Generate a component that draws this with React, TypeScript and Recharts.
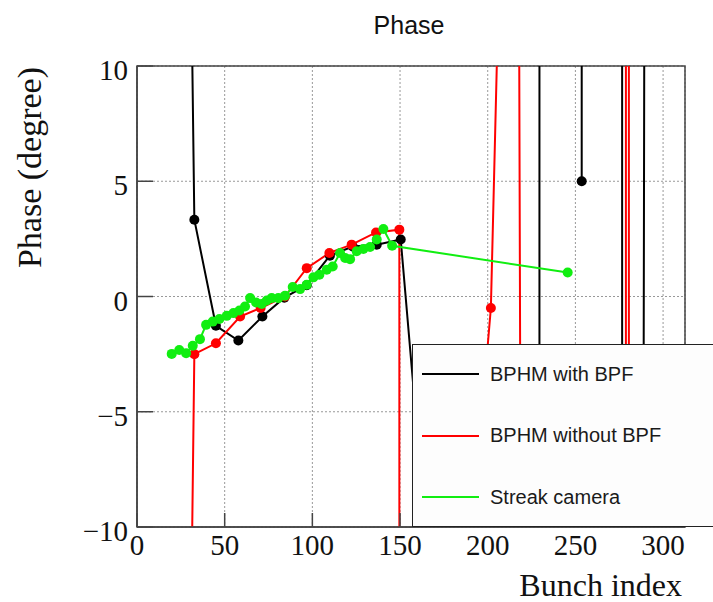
import React from 'react';
import {
  LineChart,
  Line,
  XAxis,
  YAxis,
  CartesianGrid,
  Legend,
  ReferenceArea,
} from 'recharts';

const xTicks = [0, 50, 100, 150, 200, 250, 300];
const yTicks = [-10, -5, 0, 5, 10];

// BPHM with BPF. Off-scale values only fix where the phase-wrap lines cross the frame.
const bunchWithBpf = [20, 32.7, 45, 57.8, 71.5, 84, 96.8, 110, 123, 136.7, 150.4, 163, 176, 189, 202, 215, 229.3, 229.7, 253.4, 253.6, 253.8, 276.6, 276.7, 287.5, 291, 300];
const phaseWithBpf = [78, 3.33, -1.27, -1.91, -0.87, -0.05, 0.49, 1.77, 2.17, 2.25, 2.47, -8.7, -30, -60, -100, -150, -400, 400, 400, 5, 400, 400, -400, -60, 80, 300];

// BPHM without BPF
const bunchNoBpf = [20, 32.7, 45, 58.8, 70.5, 84.4, 96.8, 109.7, 122.4, 136.3, 149.6, 150, 189, 201.8, 214, 215.5, 224, 278.7, 278.9, 280.4, 280.6];
const phaseNoBpf = [-81.5, -2.5, -2.03, -0.87, -0.5, 0.0, 1.23, 1.89, 2.25, 2.78, 2.9, -400, -12, -0.5, 37.5, 72, -140, -400, 400, 400, -400];

// Streak camera
const bunchStreak = [19.8, 24.1, 28, 31.8, 35.9, 39.4, 43.2, 47, 51.2, 55, 58.4, 61.6, 64.5, 67.9, 71.1, 74, 76.8, 80.6, 84.4, 88.8, 93, 96.8, 100.6, 104, 108.2, 111.6, 115.8, 118.7, 121.5, 125.3, 129.1, 132.9, 136.7, 140.5, 145.5, 245.6];
const phaseStreak = [-2.49, -2.32, -2.46, -2.14, -1.85, -1.23, -1.09, -0.98, -0.84, -0.72, -0.61, -0.43, -0.07, -0.26, -0.32, -0.17, -0.07, -0.07, 0.03, 0.41, 0.32, 0.51, 0.83, 0.94, 1.16, 1.3, 1.89, 1.67, 1.62, 1.96, 2.06, 2.15, 2.47, 2.93, 2.2, 1.04];

const toPoints = (xs: number[], ys: number[]) => xs.map((x, i) => ({ x, y: ys[i] }));

const withBpf = toPoints(bunchWithBpf, phaseWithBpf);
const noBpf = toPoints(bunchNoBpf, phaseNoBpf);
const streak = toPoints(bunchStreak, phaseStreak);

const FRAME = '#444';
const SERIF = '"Liberation Serif", "Times New Roman", serif';
const SANS = '"Liberation Sans", Arial, sans-serif';

const fmt = (v: number) => (v < 0 ? '\u2212' + Math.abs(v) : String(v));

const YTick = (props: any) => {
  const { x, y, payload } = props;
  const ax = x + 9;
  return (
    <g>
      <line x1={ax} x2={ax + 16} y1={y} y2={y} stroke={FRAME} strokeWidth={1.5} />
      <text x={x} y={y + 14} textAnchor="end" fontFamily={SERIF} fontSize={29} fill="#111">
        {fmt(payload.value)}
      </text>
    </g>
  );
};

const XTick = (props: any) => {
  const { x, y, payload } = props;
  return (
    <g>
      <line x1={x} x2={x} y1={y} y2={y - 14} stroke={FRAME} strokeWidth={1.5} />
      <text x={x} y={y + 28} textAnchor="middle" fontFamily={SERIF} fontSize={29} fill="#111">
        {fmt(payload.value)}
      </text>
    </g>
  );
};

const LegendBox = (props: any) => {
  const { payload } = props;
  return (
    <div
      style={{
        position: 'relative',
        width: 301,
        height: 183,
        boxSizing: 'border-box',
        background: '#fdfdfd',
        borderTop: '1.5px solid #222',
        borderLeft: '1.5px solid #222',
        borderBottom: '1.5px solid #222',
      }}
    >
      {(payload || []).map((entry: any, i: number) => (
        <div key={entry.value} style={{ position: 'absolute', left: 9, top: 29 + i * 61.5 - 12, height: 24, display: 'flex', alignItems: 'center' }}>
          <div style={{ width: 57, height: 2, background: entry.color }} />
          <span style={{ marginLeft: 11, fontFamily: SANS, fontSize: 20, color: '#1a1a1a', whiteSpace: 'nowrap' }}>
            {entry.value}
          </span>
        </div>
      ))}
    </div>
  );
};

const YTitle = (props: any) => {
  const { viewBox } = props;
  const x = viewBox.x + 41;
  const y = viewBox.y + 1;
  return (
    <text x={x} y={y} transform={`rotate(-90 ${x} ${y})`} textAnchor="end" fontFamily={SERIF} fontSize={34} fill="#111">
      Phase (degree)
    </text>
  );
};

const XTitle = (props: any) => {
  const { viewBox } = props;
  return (
    <text x={viewBox.x + viewBox.width - 3} y={viewBox.y + 69} textAnchor="end" fontFamily={SERIF} fontSize={32} fill="#111">
      Bunch index
    </text>
  );
};

export default function App() {
  return (
    <div style={{ position: 'absolute', left: 0, top: 0, width: 713, height: 602, background: '#fff' }}>
      <div
        style={{
          position: 'absolute',
          left: 309,
          top: 13,
          width: 200,
          textAlign: 'center',
          fontFamily: SANS,
          fontSize: 25,
          lineHeight: '25px',
          color: '#111',
        }}
      >
        Phase
      </div>
      <LineChart width={713} height={602} margin={{ top: 66, right: 28, left: 0, bottom: 0 }}>
        <CartesianGrid stroke="#999" strokeDasharray="2 2" strokeWidth={1} />
        <XAxis
          type="number"
          dataKey="x"
          domain={[0, 312.5]}
          ticks={xTicks}
          allowDataOverflow
          height={75}
          tickSize={0}
          tickMargin={0}
          tick={<XTick />}
          axisLine={{ stroke: FRAME, strokeWidth: 1.5 }}
          label={{ content: <XTitle /> }}
        />
        <YAxis
          type="number"
          dataKey="y"
          domain={[-10, 10]}
          ticks={yTicks}
          allowDataOverflow
          width={137}
          tickSize={0}
          tickMargin={9}
          tick={<YTick />}
          axisLine={{ stroke: FRAME, strokeWidth: 1.5 }}
          label={{ content: <YTitle /> }}
        />
        <Line
          data={withBpf}
          dataKey="y"
          name="BPHM with BPF"
          type="linear"
          stroke="#000"
          strokeWidth={2}
          dot={{ r: 5, fill: '#000', stroke: '#000', strokeWidth: 0 }}
          activeDot={false}
          isAnimationActive={false}
        />
        <Line
          data={noBpf}
          dataKey="y"
          name="BPHM without BPF"
          type="linear"
          stroke="#ff0000"
          strokeWidth={2}
          dot={{ r: 5, fill: '#ff0000', stroke: '#ff0000', strokeWidth: 0 }}
          activeDot={false}
          isAnimationActive={false}
        />
        <Line
          data={streak}
          dataKey="y"
          name="Streak camera"
          type="linear"
          stroke="#11ee11"
          strokeWidth={2}
          dot={{ r: 5, fill: '#11ee11', stroke: '#11ee11', strokeWidth: 0 }}
          activeDot={false}
          isAnimationActive={false}
        />
        <ReferenceArea x1={0} x2={312.5} y1={-10} y2={10} fill="none" stroke={FRAME} strokeWidth={1.5} />
        <Legend
          layout="vertical"
          align="center"
          verticalAlign="middle"
          content={<LegendBox />}
          wrapperStyle={{ left: 412, top: 344, width: 301, height: 183 }}
        />
      </LineChart>
    </div>
  );
}
